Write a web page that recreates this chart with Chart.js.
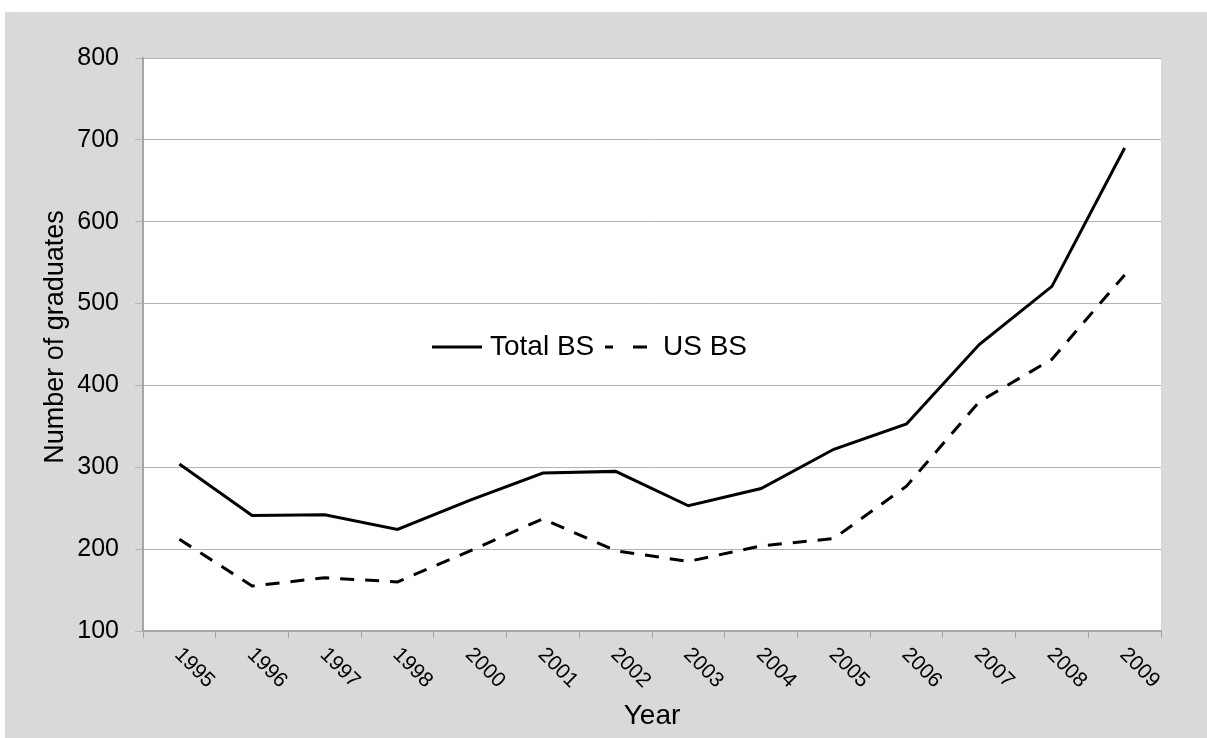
<!DOCTYPE html>
<html>
<head>
<meta charset="utf-8">
<script src="https://cdn.jsdelivr.net/npm/chart.js@4/dist/chart.umd.min.js"></script>
<style>
html,body{margin:0;padding:0;background:#fff;overflow:hidden;}
#c{display:block;}
</style>
</head>
<body>
<canvas id="c" width="1207" height="738"></canvas>
<script>
// ---- data ----
const years = ['1995','1996','1997','1998','2000','2001','2002','2003','2004','2005','2006','2007','2008','2009'];
const totalBS = [304, 241, 242, 224, 260, 293, 295, 253, 274, 322, 353, 450, 521, 690];
const usBS = [212, 155, 165, 160, 198, 237, 198, 185, 204, 213, 277, 380, 432, 535];
const yMin = 100, yMax = 800, yStep = 100;
const seriesNames = ['Total BS', 'US BS'];
const xTitle = 'Year';
const yTitle = 'Number of graduates';

const FONT = "'Liberation Sans', Arial, Helvetica, sans-serif";

const bgPlugin = {
  id: 'bg',
  beforeDraw(chart) {
    const {ctx, chartArea: a} = chart;
    ctx.save();
    ctx.fillStyle = '#ffffff';
    ctx.fillRect(0, 0, chart.width, chart.height);
    ctx.fillStyle = '#dad9d8';
    ctx.fillRect(5, 12, chart.width - 5, chart.height - 12);
    ctx.fillStyle = '#ffffff';
    ctx.fillRect(a.left, a.top, a.right - a.left, a.bottom - a.top);
    ctx.restore();
  }
};

const textPlugin = {
  id: 'texts',
  afterDraw(chart) {
    const {ctx, chartArea: a} = chart;
    const xs = chart.scales.x;
    ctx.save();
    ctx.fillStyle = '#000';
    // rotated category labels
    ctx.font = '21px ' + FONT;
    ctx.textAlign = 'center';
    ctx.textBaseline = 'middle';
    years.forEach((lab, i) => {
      const px = xs.getPixelForValue(i);
      ctx.save();
      ctx.translate(px + 15, xs.top + 37);
      ctx.rotate(Math.PI / 4);
      ctx.fillText(lab, 0, 0);
      ctx.restore();
    });
    // axis titles
    ctx.font = '28px ' + FONT;
    ctx.fillText(xTitle, (a.left + a.right) / 2, 716);
    ctx.save();
    ctx.translate(56, 337);
    ctx.rotate(-Math.PI / 2);
    ctx.font = '27px ' + FONT;
    ctx.fillText(yTitle, 0, 0);
    ctx.restore();

    // legend
    const ds = chart.data.datasets;
    const ly = 347;
    ctx.lineWidth = ds[0].borderWidth;
    ctx.strokeStyle = ds[0].borderColor;
    ctx.setLineDash([]);
    ctx.beginPath(); ctx.moveTo(432, ly); ctx.lineTo(482, ly); ctx.stroke();
    ctx.font = '28px ' + FONT;
    ctx.textAlign = 'left';
    ctx.fillText(ds[0].label, 490, ly);
    ctx.strokeStyle = ds[1].borderColor;
    ctx.lineWidth = ds[1].borderWidth;
    ctx.setLineDash([8, 20, 14, 100]);
    ctx.beginPath(); ctx.moveTo(605, ly); ctx.lineTo(647, ly); ctx.stroke();
    ctx.setLineDash([]);
    ctx.fillText(ds[1].label, 663, ly);
    ctx.restore();
  }
};

new Chart(document.getElementById('c'), {
  type: 'line',
  data: {
    labels: years,
    datasets: [
      {label: seriesNames[0], data: totalBS, borderColor: '#000', borderWidth: 3, pointRadius: 0, tension: 0, fill: false},
      {label: seriesNames[1], data: usBS, borderColor: '#000', borderWidth: 3, borderDash: [14, 11], pointRadius: 0, tension: 0, fill: false}
    ]
  },
  options: {
    responsive: false,
    animation: false,
    devicePixelRatio: 1,
    layout: {padding: {top: 58, right: 46, left: 0, bottom: 0}},
    plugins: {legend: {display: false}, title: {display: false}, tooltip: {enabled: false}},
    scales: {
      x: {
        type: 'category',
        offset: true,
        grid: {offset: true, drawOnChartArea: false, drawTicks: true, tickLength: 7, color: '#a6a6a6', lineWidth: 1},
        border: {color: '#a6a6a6', width: 2},
        ticks: {display: false},
        afterFit(s) { s.height = 107; }
      },
      y: {
        min: yMin, max: yMax,
        grid: {color: '#b3b3b3', lineWidth: 1, tickLength: 8, drawTicks: true},
        border: {color: '#a6a6a6', width: 2},
        ticks: {stepSize: yStep, color: '#000', padding: 16, font: {family: FONT, size: 25}},
        afterFit(s) { s.width = 143; }
      }
    }
  },
  plugins: [bgPlugin, textPlugin]
});
</script>
</body>
</html>
